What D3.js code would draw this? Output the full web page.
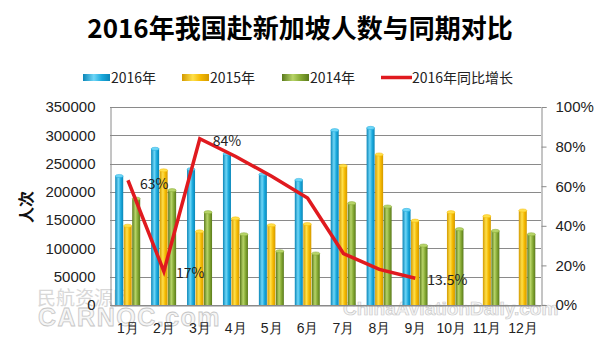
<!DOCTYPE html>
<html><head><meta charset="utf-8">
<script src="https://cdn.jsdelivr.net/npm/d3@7"></script>
<style>
html,body{margin:0;padding:0;background:#fff;}
svg{display:block;font-family:"Noto Sans CJK SC","Microsoft YaHei",sans-serif;}
</style></head>
<body>
<svg id="c" width="600" height="343"></svg>
<script>
const months = ["1月","2月","3月","4月","5月","6月","7月","8月","9月","10月","11月","12月"];
const series = ["2016年","2015年","2014年"];
const v2016 = [228000,276000,240000,267000,231000,221000,309000,313000,168000,null,null,null];
const v2015 = [140000,238000,130000,153000,141000,143000,246000,266000,149000,164000,157000,167000];
const v2014 = [188000,203000,164000,125000,95000,91000,180000,174000,105000,134000,131000,125000];
const growth = [0.63,0.17,0.84,0.75,0.65,0.54,0.26,0.18,0.135,null,null,null];
const growthLabels = [{i:0,t:"63%"},{i:1,t:"17%"},{i:2,t:"84%"},{i:8,t:"13.5%"}];
const leftTicks = [0,50000,100000,150000,200000,250000,300000,350000];
const rightTicks = [0,0.2,0.4,0.6,0.8,1.0];
const lineName = "2016年同比增长";
const title = "2016年我国赴新加坡人数与同期对比";
const yTitle = "人次";

const svg = d3.select("#c");
const L=110, R=541, T=107, B=305;
const colors = {
  "2016年":["#0a86b8","#6fd6f7","#1aa9dc"],
  "2015年":["#d39a00","#ffe04a","#f4b800"],
  "2014年":["#5a7a1c","#b7d468","#84a832"]
};
const defs = svg.append("defs");
series.forEach((s,k)=>{
  const g = defs.append("linearGradient").attr("id","g"+k).attr("x1","0").attr("x2","1").attr("y1","0").attr("y2","0");
  g.append("stop").attr("offset","0").attr("stop-color",colors[s][0]);
  g.append("stop").attr("offset","0.4").attr("stop-color",colors[s][1]);
  g.append("stop").attr("offset","0.7").attr("stop-color",colors[s][2]);
  g.append("stop").attr("offset","1").attr("stop-color",colors[s][0]);
});

const x0 = d3.scaleBand().domain(months).range([L,R]).paddingInner(0.29).paddingOuter(0.145);
const x1 = d3.scaleBand().domain(series).range([0,x0.bandwidth()]);
const y = d3.scaleLinear().domain([0,350000]).range([B,T]);
const y2 = d3.scaleLinear().domain([0,1]).range([B,T]);

// watermarks (behind chart text)
svg.append("text").attr("x",37).attr("y",305).attr("font-size",19).attr("fill","#cfcfcf").attr("opacity",0.8).text("民航资源网");
svg.append("text").attr("x",38).attr("y",326).attr("font-size",25).attr("font-weight","bold").attr("font-family","Liberation Sans")
  .attr("fill","#f4f4f4").attr("stroke","#b8b8b8").attr("stroke-width",0.8).attr("opacity",0.8).attr("letter-spacing",1.5).text("CARNOC.com");
svg.append("text").attr("x",343).attr("y",315).attr("font-size",19).attr("font-weight","bold").attr("font-family","Liberation Sans Narrow, Liberation Sans")
  .attr("fill","#f4f4f4").attr("stroke","#bcbcbc").attr("stroke-width",0.7).attr("opacity",0.8).text("ChinaAviationDaily.com");

// grid
svg.append("g").selectAll("line").data(leftTicks).join("line")
  .attr("x1",L).attr("x2",R).attr("y1",d=>Math.round(y(d))+0.5).attr("y2",d=>Math.round(y(d))+0.5)
  .attr("stroke","#8a8a8a").attr("stroke-width",1);

// left axis
const ax = svg.append("g").attr("transform",`translate(${L+0.5},0)`)
  .call(d3.axisLeft(y).tickValues(leftTicks).tickSize(0).tickPadding(15).tickFormat(d3.format("d")));
ax.select(".domain").attr("stroke","#8a8a8a");
ax.selectAll("text").attr("font-size",15).attr("fill","#222");

// right axis
const ar = svg.append("g").attr("transform",`translate(${R+0.5},0)`)
  .call(d3.axisRight(y2).tickValues(rightTicks).tickSize(5).tickPadding(9).tickFormat(d3.format(".0%")));
ar.select(".domain").attr("stroke","#8a8a8a");
ar.selectAll(".tick line").attr("stroke","#8a8a8a");
ar.selectAll("text").attr("font-size",15).attr("fill","#222");

// bottom axis
const ab = svg.append("g").attr("transform",`translate(0,${B+0.5})`)
  .call(d3.axisBottom(x0).tickSize(0).tickPadding(18));
ab.select(".domain").attr("stroke","#8a8a8a");
ab.selectAll("text").attr("font-size",14).attr("fill","#222");

// bars
const data = [v2016,v2015,v2014];
series.forEach((s,k)=>{
  const g = svg.append("g");
  const pts = months.map((m,i)=>({m,v:data[k][i]})).filter(d=>d.v!=null);
  const bw = x1.bandwidth()-0.5;
  g.selectAll("rect").data(pts).join("rect")
    .attr("x",d=>x0(d.m)+x1(s)).attr("width",bw)
    .attr("y",d=>y(d.v)).attr("height",d=>B-y(d.v))
    .attr("fill",`url(#g${k})`);
  g.selectAll("ellipse").data(pts).join("ellipse")
    .attr("cx",d=>x0(d.m)+x1(s)+bw/2).attr("cy",d=>y(d.v))
    .attr("rx",bw/2).attr("ry",1.6)
    .attr("fill",colors[s][1]).attr("stroke",colors[s][2]).attr("stroke-width",0.5);
});

// line
const lp = months.map((m,i)=>({m,v:growth[i]})).filter(d=>d.v!=null);
svg.append("path").datum(lp)
  .attr("d",d3.line().x(d=>x0(d.m)+x0.bandwidth()/2).y(d=>y2(d.v)))
  .attr("fill","none").attr("stroke","#e01a1f").attr("stroke-width",3.5).attr("stroke-linejoin","miter");

svg.append("g").selectAll("text").data(growthLabels).join("text")
  .attr("x",d=>x0(months[d.i])+x0.bandwidth()/2+(d.i===2?13:12))
  .attr("y",d=>y2(growth[d.i]) + (d.i===0?9:7))
  .attr("font-size",14).attr("fill","#222").text(d=>d.t);

// title
svg.append("text").attr("x",300).attr("y",38).attr("text-anchor","middle")
  .attr("font-size",26).attr("font-weight","bold").attr("fill","#000").text(title);

// y title
svg.append("text").attr("transform","translate(32,207) rotate(-90)").attr("text-anchor","middle")
  .attr("font-size",16).attr("font-weight","bold").attr("fill","#111").text(yTitle);

// legend
const leg = svg.append("g");
const legItems = [
  {t:series[0],x:83,k:0},{t:series[1],x:182,k:1},{t:series[2],x:282,k:2},{t:lineName,x:381,k:-1}
];
legItems.forEach(it=>{
  if(it.k>=0){
    leg.append("rect").attr("x",it.x).attr("y",74).attr("width",27).attr("height",7).attr("fill",`url(#g${it.k})`);
    leg.append("text").attr("x",it.x+28).attr("y",83).attr("font-size",14).attr("fill","#222").text(it.t);
  } else {
    leg.append("line").attr("x1",it.x).attr("x2",it.x+31).attr("y1",77.5).attr("y2",77.5).attr("stroke","#e01a1f").attr("stroke-width",3.5);
    leg.append("text").attr("x",it.x+31).attr("y",83).attr("font-size",14).attr("fill","#222").text(it.t);
  }
});
</script>
</body></html>
